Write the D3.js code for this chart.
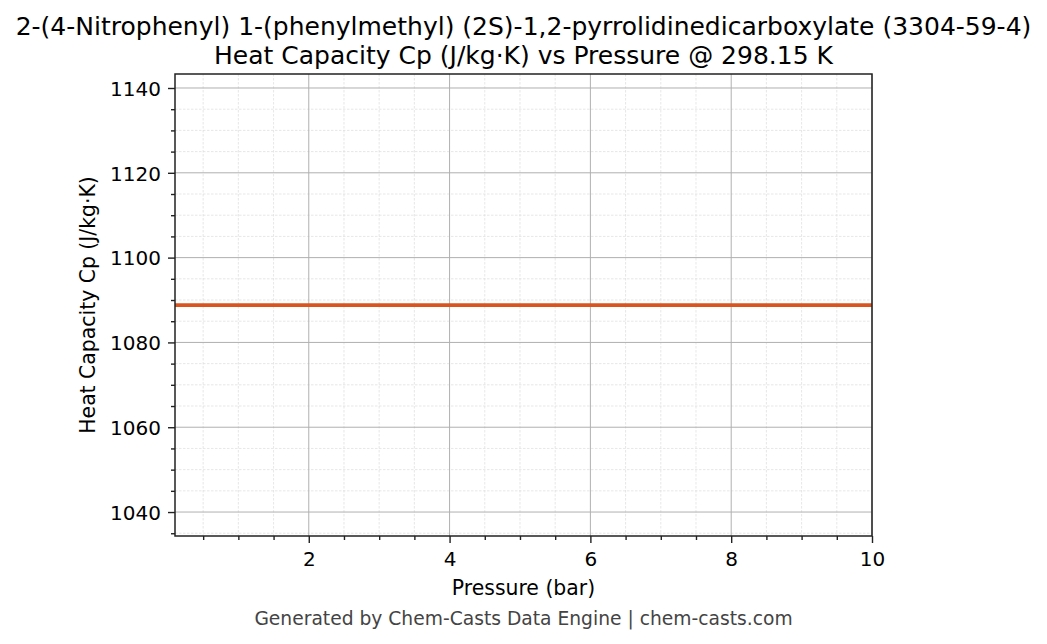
<!DOCTYPE html>
<html><head><meta charset="utf-8">
<script src="https://cdn.jsdelivr.net/npm/d3@7"></script>
<style>body{margin:0;background:#fff}svg{display:block}text{font-family:"DejaVu Sans",sans-serif}</style>
</head><body><svg id="c" width="1047" height="644"></svg>
<script>
const pressures = [0.1, 1, 2, 3, 4, 5, 6, 7, 8, 9, 10];
const heatCapacity = [1088.8, 1088.8, 1088.8, 1088.8, 1088.8, 1088.8, 1088.8, 1088.8, 1088.8, 1088.8, 1088.8];
const xTicks = [2, 4, 6, 8, 10];
const yTicks = [1040, 1060, 1080, 1100, 1120, 1140];
const titleLines = ["2-(4-Nitrophenyl) 1-(phenylmethyl) (2S)-1,2-pyrrolidinedicarboxylate (3304-59-4)", "Heat Capacity Cp (J/kg·K) vs Pressure @ 298.15 K"];

const svg = d3.select("#c");
const L = 175, R = 872, T = 74, B = 536;
const x = d3.scaleLinear().domain([0.1, 10]).range([L, R]);
const y = d3.scaleLinear().domain([1034.35, 1143.3]).range([B, T]);
const xMinor = d3.range(0.5, 10.01, 0.5).filter(v => !xTicks.includes(v));
const yMinor = d3.range(1035, 1143, 5).filter(v => !yTicks.includes(v));

const g = svg.append("g");
g.selectAll(".mx").data(xMinor).join("line").attr("x1", d => x(d)).attr("x2", d => x(d)).attr("y1", T).attr("y2", B)
  .attr("stroke", "#dcdcdc").attr("stroke-width", 0.7).attr("stroke-dasharray", "2.5,1.5");
g.selectAll(".my").data(yMinor).join("line").attr("y1", d => y(d)).attr("y2", d => y(d)).attr("x1", L).attr("x2", R)
  .attr("stroke", "#dcdcdc").attr("stroke-width", 0.7).attr("stroke-dasharray", "2.5,1.5");
g.selectAll(".gx").data(xTicks).join("line").attr("x1", d => x(d)).attr("x2", d => x(d)).attr("y1", T).attr("y2", B)
  .attr("stroke", "#b0b0b0").attr("stroke-width", 1);
g.selectAll(".gy").data(yTicks).join("line").attr("y1", d => y(d)).attr("y2", d => y(d)).attr("x1", L).attr("x2", R)
  .attr("stroke", "#b0b0b0").attr("stroke-width", 1);

const line = d3.line().x((d, i) => x(pressures[i])).y(d => y(d));
svg.append("path").datum(heatCapacity).attr("d", line).attr("fill", "none")
  .attr("stroke", "#d9541e").attr("stroke-width", 3.6);

const fs = "20px";
const xAxis = svg.append("g").attr("transform", `translate(0,${B})`)
  .call(d3.axisBottom(x).tickValues(xTicks).tickSize(7).tickPadding(7).tickFormat(d3.format("d")));
const xAxisMinor = svg.append("g").attr("transform", `translate(0,${B})`)
  .call(d3.axisBottom(x).tickValues(xMinor).tickSize(4).tickFormat(""));
const yAxis = svg.append("g").attr("transform", `translate(${L},0)`)
  .call(d3.axisLeft(y).tickValues(yTicks).tickSize(7).tickPadding(7).tickFormat(d3.format("d")));
const yAxisMinor = svg.append("g").attr("transform", `translate(${L},0)`)
  .call(d3.axisLeft(y).tickValues(yMinor).tickSize(4).tickFormat(""));
[xAxis, xAxisMinor, yAxis, yAxisMinor].forEach(a => {
  a.select(".domain").remove();
  a.selectAll("line").attr("stroke", "#222").attr("stroke-width", 1.4);
  a.selectAll("text").attr("font-size", fs).attr("fill", "#000").style("font-family", "DejaVu Sans");
});
xAxis.selectAll("text").attr("dy", null).attr("y", 30);
yAxis.selectAll("text").attr("dy", "0.36em");

svg.append("rect").attr("x", L).attr("y", T).attr("width", R - L).attr("height", B - T)
  .attr("fill", "none").attr("stroke", "#222").attr("stroke-width", 1.5);

svg.append("text").attr("x", (L + R) / 2).attr("y", 595).attr("text-anchor", "middle")
  .attr("font-size", "20.4px").text("Pressure (bar)");
svg.append("text").attr("transform", `translate(95,${(T + B) / 2}) rotate(-90)`).attr("text-anchor", "middle")
  .attr("font-size", "20.4px").text("Heat Capacity Cp (J/kg·K)");
svg.selectAll(".title").data(titleLines).join("text").attr("x", 523.5).attr("y", (d, i) => 34.5 + i * 29)
  .attr("text-anchor", "middle").attr("font-size", "25px").text(d => d);
svg.append("text").attr("x", 523.5).attr("y", 625).attr("text-anchor", "middle")
  .attr("font-size", "18.7px").attr("fill", "#444").text("Generated by Chem-Casts Data Engine | chem-casts.com");
</script></body></html>
